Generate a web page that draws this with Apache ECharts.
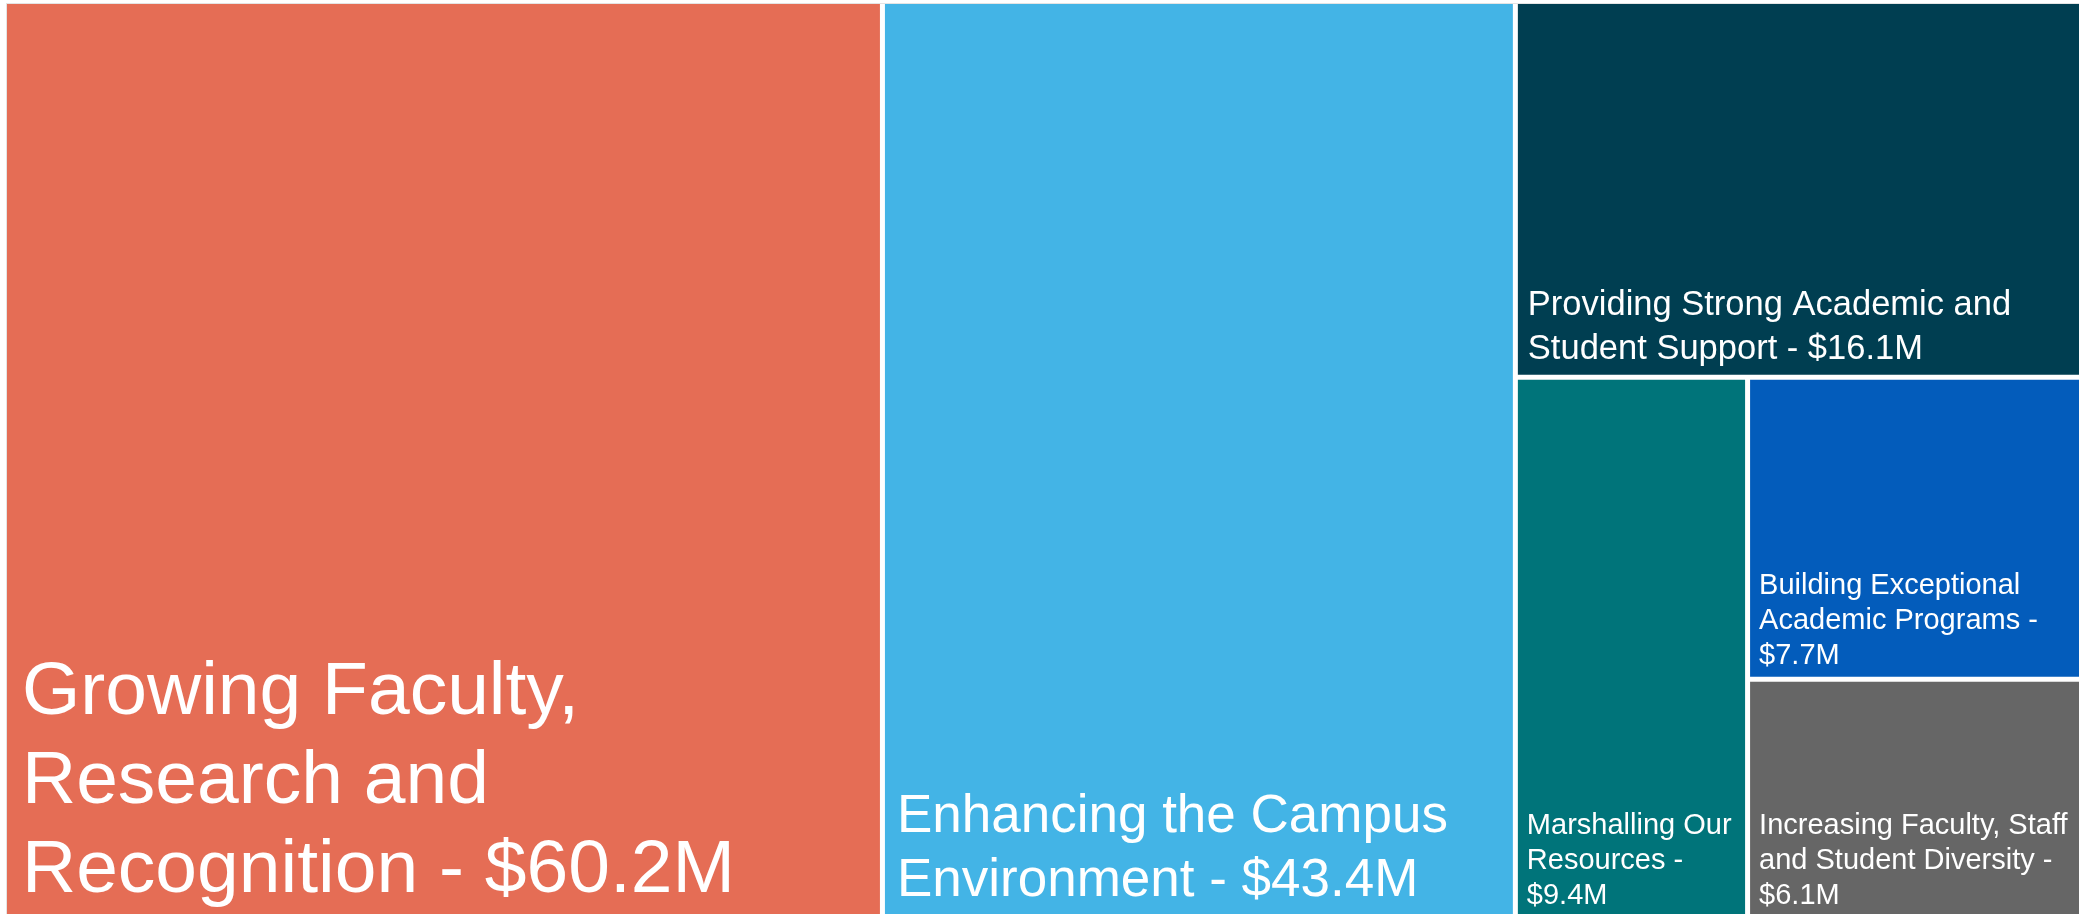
<!DOCTYPE html>
<html>
<head>
<meta charset="utf-8">
<script src="https://cdn.jsdelivr.net/npm/echarts@6/dist/echarts.min.js"></script>
<style>
  html, body { margin: 0; padding: 0; background: #ffffff; overflow: hidden; }
  #chart {
    position: absolute; left: 6px; top: 3px;
    width: 2079px; height: 912px;
    border-left: 1px solid #e4e4e4; border-top: 1px solid #e4e4e4;
  }
</style>
</head>
<body>
<div id="chart"></div>
<script>
// Strategic plan funding by priority, in millions of dollars
const categories = [
  'Growing Faculty, Research and Recognition',
  'Enhancing the Campus Environment',
  'Providing Strong Academic and Student Support',
  'Marshalling Our Resources',
  'Building Exceptional Academic Programs',
  'Increasing Faculty, Staff and Student Diversity'
];
const fundingMillions = [60.2, 43.4, 16.1, 9.4, 7.7, 6.1];

// How each tile's label is broken into lines; {v} is the formatted amount
const labelLines = [
  'Growing Faculty,\nResearch and\nRecognition - {v}',
  'Enhancing the Campus\nEnvironment - {v}',
  'Providing Strong Academic and\nStudent Support - {v}',
  'Marshalling Our\nResources -\n{v}',
  'Building Exceptional\nAcademic Programs -\n{v}',
  'Increasing Faculty, Staff\nand Student Diversity -\n{v}'
];

// Tile colours and label type, one per priority
const tileColors = ['#E56D55', '#43B4E6', '#003E51', '#00747A', '#035CBB', '#666666'];
const labelType = [
  { fontSize: 75, lineHeight: 89, padding: [0, 8, 0, 15] },
  { fontSize: 53, lineHeight: 64, padding: [0, 8, 3, 12] },
  { fontSize: 34.5, lineHeight: 44, padding: [0, 8, 3, 10] },
  { fontSize: 29, lineHeight: 35, padding: [0, 6, 3, 9] },
  { fontSize: 29, lineHeight: 35, padding: [0, 6, 3, 9] },
  { fontSize: 29, lineHeight: 35, padding: [0, 6, 3, 9] }
];

const formatAmount = v => '$' + v.toFixed(1) + 'M';

const seriesData = categories.map((name, i) => ({
  name: name,
  value: fundingMillions[i],
  itemStyle: { color: tileColors[i] },
  label: {
    fontSize: labelType[i].fontSize,
    lineHeight: labelType[i].lineHeight,
    padding: labelType[i].padding
  }
}));

function tileLabel(p) {
  const i = categories.indexOf(p.name);
  if (i < 0) return '';
  return labelLines[i].replace('{v}', formatAmount(fundingMillions[i]));
}

const chart = echarts.init(document.getElementById('chart'), null, { renderer: 'canvas' });
chart.setOption({
  animation: false,
  tooltip: { show: false },
  series: [{
    type: 'treemap',
    left: 0, top: 0, right: 0, bottom: 0,
    roam: false,
    nodeClick: false,
    breadcrumb: { show: false },
    squareRatio: 0.75,
    sort: 'desc',
    levels: [
      { itemStyle: { gapWidth: 5, borderWidth: 0 } },
      { itemStyle: { borderWidth: 0 } }
    ],
    label: {
      show: true,
      position: 'insideBottomLeft',
      distance: 0,
      color: '#ffffff',
      fontFamily: '"Liberation Sans", Arial, sans-serif',
      overflow: 'none',
      formatter: tileLabel
    },
    emphasis: { disabled: true },
    data: seriesData
  }]
});
</script>
</body>
</html>
